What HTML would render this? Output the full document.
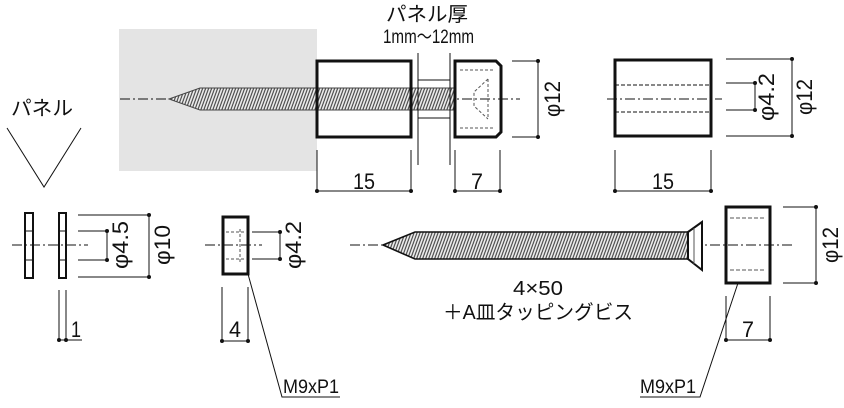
<!DOCTYPE html>
<html><head><meta charset="utf-8"><style>
html,body{margin:0;padding:0;background:#fff;}
svg{display:block;}
text{font-family:"Liberation Sans","Noto Sans CJK JP",sans-serif;fill:#111;}
</style></head><body>
<svg width="844" height="408" viewBox="0 0 844 408" xmlns="http://www.w3.org/2000/svg">
<defs>
<pattern id="th" width="3" height="10" patternUnits="userSpaceOnUse" patternTransform="skewX(-20)">
<rect width="3" height="10" fill="#eee"/><line x1="0.8" y1="0" x2="0.8" y2="10" stroke="#333" stroke-width="1.1"/>
</pattern>
</defs>
<g stroke="#111" fill="none" stroke-width="1">
<rect x="119" y="29" width="198" height="142" fill="#e4e4e4" stroke="none"/>
<line x1="120" y1="99" x2="520" y2="99" stroke-dasharray="10,3,2,3"/>
<polygon points="169,99 200,88 455,88 455,110 200,110" fill="url(#th)" stroke="#444"/>
<line x1="418" y1="80" x2="450" y2="80"/><line x1="418" y1="118" x2="450" y2="118"/>
<line x1="418" y1="53" x2="418" y2="165"/><line x1="450" y1="53" x2="450" y2="165"/>
<rect x="317" y="61" width="94" height="76" stroke-width="3" fill="none"/>
<path d="M455,61 H496 L501,66 V132 L496,137 H455 Z" stroke-width="3"/>
<path d="M460,70 H493 M460,128 H493 M488,79 L474,92 V106 L488,119 M488,79 V119" stroke-dasharray="3,2" stroke="#555"/>
<line x1="512" y1="61" x2="538" y2="61"/><line x1="512" y1="137" x2="538" y2="137"/><line x1="538" y1="61" x2="538" y2="137"/>
<line x1="317" y1="150" x2="317" y2="191"/><line x1="411" y1="150" x2="411" y2="191"/><line x1="317" y1="191" x2="411" y2="191"/>
<line x1="455" y1="150" x2="455" y2="191"/><line x1="500" y1="150" x2="500" y2="191"/><line x1="455" y1="191" x2="500" y2="191"/>
<line x1="607" y1="99" x2="722" y2="99" stroke-dasharray="10,3,2,3"/>
<line x1="615" y1="85" x2="711" y2="85" stroke-dasharray="4,2"/><line x1="615" y1="112" x2="711" y2="112" stroke-dasharray="4,2"/>
<rect x="615" y="60" width="96" height="76" stroke-width="3"/>
<line x1="726" y1="83" x2="755" y2="83"/><line x1="726" y1="110" x2="755" y2="110"/><line x1="755" y1="83" x2="755" y2="110"/>
<line x1="726" y1="59" x2="792" y2="59"/><line x1="726" y1="136" x2="792" y2="136"/><line x1="792" y1="59" x2="792" y2="136"/>
<line x1="615" y1="150" x2="615" y2="191"/><line x1="711" y1="150" x2="711" y2="191"/><line x1="615" y1="191" x2="711" y2="191"/>
<polyline points="7,128 44,187 81,128"/>
<line x1="12" y1="245" x2="88" y2="245" stroke-dasharray="10,3,2,3"/>
<rect x="25" y="213" width="8" height="65" stroke-width="2"/>
<rect x="59" y="213" width="7" height="65" stroke-width="2"/>
<line x1="25" y1="231" x2="33" y2="231"/><line x1="25" y1="260" x2="33" y2="260"/>
<line x1="59" y1="231" x2="66" y2="231"/><line x1="59" y1="260" x2="66" y2="260"/>
<line x1="78" y1="231" x2="107" y2="231"/><line x1="78" y1="260" x2="107" y2="260"/><line x1="107" y1="231" x2="107" y2="260"/>
<line x1="78" y1="215" x2="149" y2="215"/><line x1="78" y1="277" x2="149" y2="277"/><line x1="149" y1="215" x2="149" y2="277"/>
<line x1="59" y1="290" x2="59" y2="340"/><line x1="66" y1="290" x2="66" y2="340"/><line x1="59" y1="340" x2="82" y2="340"/>
<line x1="205" y1="245" x2="262" y2="245" stroke-dasharray="10,3,2,3"/>
<rect x="223" y="217" width="25" height="57" stroke-width="3"/>
<path d="M226,232 H244 M226,259 H244 M240,229 V262" stroke-dasharray="3,2" stroke="#555"/>
<line x1="252" y1="232" x2="280" y2="232"/><line x1="252" y1="259" x2="280" y2="259"/><line x1="280" y1="232" x2="280" y2="259"/>
<line x1="222" y1="287" x2="222" y2="341"/><line x1="248" y1="287" x2="248" y2="341"/><line x1="222" y1="341" x2="248" y2="341"/>
<polyline points="248,274 282,397 340,397"/>
<line x1="350" y1="245" x2="795" y2="245" stroke-dasharray="10,3,2,3"/>
<polygon points="383,245 415,232 688,232 688,259 415,259" fill="url(#th)" stroke-width="1.6"/>
<polygon points="688,232 702,222 702,270 688,259" stroke-width="2" fill="#fff"/>
<line x1="694" y1="228" x2="694" y2="264" stroke="#555"/>
<rect x="726" y="207" width="44" height="76" stroke-width="3"/>
<path d="M730,218 H766 M730,270 H766" stroke-dasharray="4,2" stroke="#555"/>
<line x1="783" y1="207" x2="816" y2="207"/><line x1="783" y1="283" x2="816" y2="283"/><line x1="816" y1="207" x2="816" y2="283"/>
<line x1="726" y1="296" x2="726" y2="340"/><line x1="770" y1="296" x2="770" y2="340"/><line x1="726" y1="340" x2="770" y2="340"/>
<polyline points="738,283 700,397 640,397"/>
</g>
<g fill="#111">
<circle cx="538" cy="61" r="2"/><circle cx="538" cy="137" r="2"/>
<circle cx="317" cy="191" r="2"/><circle cx="411" cy="191" r="2"/><circle cx="455" cy="191" r="2"/><circle cx="500" cy="191" r="2"/>
<circle cx="755" cy="83" r="2"/><circle cx="755" cy="110" r="2"/><circle cx="792" cy="59" r="2"/><circle cx="792" cy="136" r="2"/>
<circle cx="615" cy="191" r="2"/><circle cx="711" cy="191" r="2"/>
<circle cx="107" cy="231" r="2"/><circle cx="107" cy="260" r="2"/><circle cx="149" cy="215" r="2"/><circle cx="149" cy="277" r="2"/>
<circle cx="59" cy="340" r="2"/><circle cx="66" cy="340" r="2"/>
<circle cx="280" cy="232" r="2"/><circle cx="280" cy="259" r="2"/><circle cx="222" cy="341" r="2"/><circle cx="248" cy="341" r="2"/>
<circle cx="816" cy="207" r="2"/><circle cx="816" cy="283" r="2"/><circle cx="726" cy="340" r="2"/><circle cx="770" cy="340" r="2"/>
</g>
<g font-size="22" lengthAdjust="spacingAndGlyphs">
<text x="386" y="21" font-size="20" textLength="82" lengthAdjust="spacingAndGlyphs">パネル厚</text>
<text x="383" y="43" font-size="19" textLength="91" lengthAdjust="spacingAndGlyphs">1mm～12mm</text>
<text x="353" y="189" textLength="22" lengthAdjust="spacingAndGlyphs">15</text>
<text x="471" y="189" textLength="12" lengthAdjust="spacingAndGlyphs">7</text>
<text x="652" y="189" textLength="22" lengthAdjust="spacingAndGlyphs">15</text>
<text x="11" y="115" font-size="20" textLength="62" lengthAdjust="spacingAndGlyphs">パネル</text>
<text x="71" y="337" textLength="10" lengthAdjust="spacingAndGlyphs">1</text>
<text x="229" y="337" textLength="12" lengthAdjust="spacingAndGlyphs">4</text>
<text x="742" y="337" textLength="12" lengthAdjust="spacingAndGlyphs">7</text>
<text x="513" y="295" font-size="20" textLength="50" lengthAdjust="spacingAndGlyphs">4×50</text>
<text x="443" y="319" font-size="20" textLength="190" lengthAdjust="spacingAndGlyphs">＋A皿タッピングビス</text>
<text x="283" y="393" font-size="19" textLength="56" lengthAdjust="spacingAndGlyphs">M9xP1</text>
<text x="640" y="393" font-size="19" textLength="56" lengthAdjust="spacingAndGlyphs">M9xP1</text>
<text transform="translate(560,99) rotate(-90)" text-anchor="middle" textLength="36" lengthAdjust="spacingAndGlyphs">φ12</text>
<text transform="translate(774,97) rotate(-90)" text-anchor="middle" textLength="48" lengthAdjust="spacingAndGlyphs">φ4.2</text>
<text transform="translate(812,97) rotate(-90)" text-anchor="middle" textLength="36" lengthAdjust="spacingAndGlyphs">φ12</text>
<text transform="translate(128,245) rotate(-90)" text-anchor="middle" textLength="48" lengthAdjust="spacingAndGlyphs">φ4.5</text>
<text transform="translate(170,245) rotate(-90)" text-anchor="middle" textLength="40" lengthAdjust="spacingAndGlyphs">φ10</text>
<text transform="translate(301,245) rotate(-90)" text-anchor="middle" textLength="48" lengthAdjust="spacingAndGlyphs">φ4.2</text>
<text transform="translate(838,245) rotate(-90)" text-anchor="middle" textLength="36" lengthAdjust="spacingAndGlyphs">φ12</text>
</g>
</svg>
</body></html>
